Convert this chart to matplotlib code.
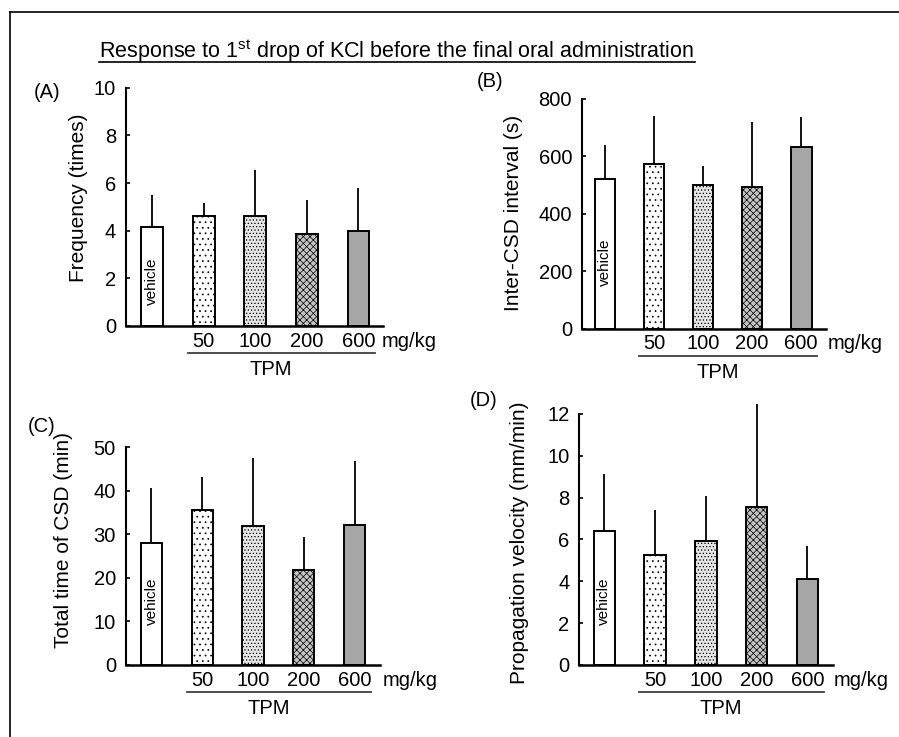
import matplotlib
matplotlib.use('Agg')
import matplotlib.pyplot as plt
import matplotlib.transforms as mtransforms
import numpy as np

plt.rcParams['font.family'] = ['Liberation Sans', 'DejaVu Sans']
plt.rcParams['mathtext.fontset'] = 'custom'
plt.rcParams['mathtext.rm'] = 'Liberation Sans'
plt.rcParams['hatch.linewidth'] = 0.5

# Grupos: vehiculo y dosis de TPM
grupos = ["vehicle", "50", "100", "200", "600"]

# (A) frecuencia, (B) intervalo, (C) tiempo total, (D) velocidad: media y DE (solo hacia arriba)
frecuencia_media = [4.15, 4.6, 4.6, 3.85, 4.0]
frecuencia_de = [1.35, 0.55, 1.95, 1.45, 1.8]
intervalo_media = [520, 575, 499, 493, 634]
intervalo_de = [120, 166, 68, 227, 102]
tiempo_media = [28, 35.6, 32, 21.8, 32.2]
tiempo_de = [12.6, 7.6, 15.6, 7.7, 14.6]
velocidad_media = [6.4, 5.24, 5.94, 7.54, 4.13]
velocidad_de = [2.72, 2.17, 2.13, 4.96, 1.57]

# Relleno de cada barra
caras = ["white", "white", "#e6e6e6", "#c4c4c4", "#a6a6a6"]
tramas = [None, "...", ".....", "xxxxx", None]

fig = plt.figure(figsize=(8.99, 7.37), dpi=100)

paneles = [
    # (posicion, media, de, limite y, paso, etiqueta, letra, xlim, pos. etiqueta, y vehicle, x mg/kg, pos. letra)
    ([0.1398, 0.5577, 0.2862, 0.3233], frecuencia_media, frecuencia_de, 10, 2,
     "Frequency (times)", "(A)", (-0.514, 4.477), (-0.147, 0.54), 0.186, 4.45, (0.037, 0.875)),
    ([0.6471, 0.5540, 0.2714, 0.3117], intervalo_media, intervalo_de, 800, 200,
     "Inter-CSD interval (s)", "(B)", (-0.475, 4.5), (-0.24, 0.504), 0.29, 4.55, (0.530, 0.889)),
    ([0.1398, 0.0977, 0.2829, 0.2954], tiempo_media, tiempo_de, 50, 10,
     "Total time of CSD (min)", "(C)", (-0.508, 4.5), (-0.207, 0.574), 0.294, 4.56, (0.031, 0.421)),
    ([0.6444, 0.0977, 0.2819, 0.3406], velocidad_media, velocidad_de, 12, 2,
     "Propagation velocity (mm/min)", "(D)", (-0.493, 4.5), (-0.198, 0.486), 0.252, 4.51, (0.523, 0.456)),
]

for pos, media, de, ymax, paso, etiqueta, letra, xlim, pos_et, y_veh, x_mg, pos_letra in paneles:
    ax = fig.add_axes(pos)
    x = np.arange(len(grupos))
    ax.errorbar(x, media, yerr=[np.zeros(len(de)), de], fmt='none', ecolor='black',
                elinewidth=1.3, capsize=0, zorder=1, clip_on=False)
    for i in range(len(grupos)):
        ax.bar(x[i], media[i], width=0.42, color=caras[i], hatch=tramas[i],
               edgecolor='black', linewidth=1.4, zorder=2)

    ax.set_xlim(*xlim)
    ax.set_ylim(0, ymax)
    ax.set_yticks(np.arange(0, ymax + paso / 2, paso))
    ax.tick_params(axis='y', direction='in', length=3, width=1.2, labelsize=14.5, pad=7)
    ax.tick_params(axis='x', bottom=False, labelbottom=False)
    for lado in ['top', 'right']:
        ax.spines[lado].set_visible(False)
    ax.spines['left'].set_linewidth(1.5)
    ax.spines['bottom'].set_linewidth(1.8)
    ax.set_ylabel(etiqueta, fontsize=15)
    ax.yaxis.set_label_coords(*pos_et)

    ax.text(0, y_veh, "vehicle", rotation=90, ha='center', va='center', fontsize=11,
            transform=ax.get_xaxis_transform())

    # Dosis bajo el eje, linea de TPM y unidades
    trans_num = mtransforms.offset_copy(ax.get_xaxis_transform(), fig=fig, y=-11, units='points')
    for i in range(1, len(grupos)):
        ax.text(x[i], 0, grupos[i], ha='center', va='center', fontsize=14.5,
                transform=trans_num, clip_on=False)
    ax.text(x_mg, 0, "mg/kg", ha='left', va='center', fontsize=14.5,
            transform=trans_num, clip_on=False)
    trans_linea = mtransforms.offset_copy(ax.get_xaxis_transform(), fig=fig, y=-19.5, units='points')
    ax.plot([0.69, 4.32], [0, 0], color='0.25', linewidth=1.3, transform=trans_linea, clip_on=False)
    trans_tpm = mtransforms.offset_copy(ax.get_xaxis_transform(), fig=fig, y=-31.5, units='points')
    ax.text(2.3, 0, "TPM", ha='center', va='center', fontsize=14.5,
            transform=trans_tpm, clip_on=False)

    fig.text(pos_letra[0], pos_letra[1], letra, fontsize=14.5, ha='left', va='center')

# Titulo subrayado
titulo = fig.text(0.4416, 0.9213, r"Response to 1$^{\mathrm{st}}$ drop of KCl before the final oral administration",
                  ha='center', va='baseline', fontsize=15.5)
fig.canvas.draw()
bb = titulo.get_window_extent().transformed(fig.transFigure.inverted())
fig.add_artist(plt.Line2D([bb.x0, bb.x1], [1 - 62 / 737] * 2, color='black', linewidth=1.2,
                          transform=fig.transFigure))

# Marco superior e izquierdo
fig.add_artist(plt.Line2D([10 / 899, 1.0], [1 - 12 / 737] * 2, color='black', linewidth=1.2,
                          transform=fig.transFigure))
fig.add_artist(plt.Line2D([10 / 899] * 2, [0.0, 1 - 12 / 737], color='black', linewidth=1.2,
                          transform=fig.transFigure))

fig.savefig("out.png", dpi=100)
